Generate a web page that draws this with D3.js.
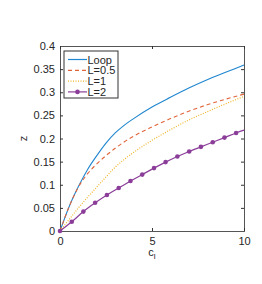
<!DOCTYPE html>
<html>
<head>
<meta charset="utf-8">
<script src="https://cdn.jsdelivr.net/npm/d3@7"></script>
<style>
  body { margin: 0; background: #fff; }
  text { font-family: "Liberation Sans", Arial, sans-serif; }
</style>
</head>
<body>
<script>
// curve values
const cGrid = [0, 0.5, 1, 1.5, 2, 2.5, 3, 3.5, 4, 5, 6, 7, 8, 9, 10]
const zLoop = [0, 0.053, 0.096, 0.133, 0.163, 0.190, 0.212, 0.229, 0.243, 0.268, 0.289, 0.309, 0.327, 0.343, 0.359]
const zL05 = [0, 0.053, 0.095, 0.124, 0.145, 0.163, 0.179, 0.193, 0.205, 0.225, 0.243, 0.259, 0.273, 0.285, 0.296]
const zL1 = [0, 0.025, 0.050, 0.073, 0.095, 0.117, 0.138, 0.155, 0.170, 0.196, 0.219, 0.240, 0.258, 0.275, 0.291]

// L=2 with markers
const cL2 = [0, 0.64, 1.27, 1.91, 2.55, 3.19, 3.83, 4.47, 5.11, 5.74, 6.38, 7.02, 7.66, 8.3, 8.94, 9.57, 10]
const zL2 = [0, 0.020, 0.042, 0.061, 0.078, 0.093, 0.108, 0.122, 0.136, 0.149, 0.161, 0.172, 0.182, 0.192, 0.202, 0.212, 0.218]
const markerOn = cL2.map((c, i) => i < cL2.length - 1)

const seriesNames = ['Loop', 'L=0.5', 'L=1', 'L=2']
const colors = ['#1f86cf', '#e0653a', '#efb52a', '#8b3d99']
const yTicks = [0, 0.05, 0.1, 0.15, 0.2, 0.25, 0.3, 0.35, 0.4]
const xTicks = [0, 5, 10]

const width = 262, height = 284
const margin = {top: 46, right: 18, bottom: 53, left: 60}
const w = width - margin.left - margin.right
const h = height - margin.top - margin.bottom

const svg = d3.select('body').append('svg')
  .attr('width', width)
  .attr('height', height)
const chart = svg.append('g')
  .attr('transform', `translate(${margin.left},${margin.top})`)

const x = d3.scaleLinear().domain([0, 10]).range([0, w])
const y = d3.scaleLinear().domain([0, 0.4]).range([h, 0])

const fmtY = d => d === 0 ? '0' : d3.format('')(+d.toFixed(2))

const styleAxis = g => {
  g.select('.domain').attr('stroke', '#555').attr('stroke-width', 1)
  g.selectAll('.tick line').attr('stroke', '#333')
  g.selectAll('.tick text').attr('fill', '#262626').attr('font-size', 11)
}

chart.append('g').call(d3.axisLeft(y).tickValues(yTicks).tickSize(-3).tickPadding(5).tickFormat(fmtY))
  .call(styleAxis)
chart.append('g').attr('transform', `translate(${w},0)`)
  .call(d3.axisRight(y).tickValues(yTicks).tickSize(-3).tickFormat(''))
  .call(styleAxis)
chart.append('g').attr('transform', `translate(0,${h})`)
  .call(d3.axisBottom(x).tickValues(xTicks).tickSize(-3).tickPadding(6))
  .call(styleAxis)
chart.append('g')
  .call(d3.axisTop(x).tickValues(xTicks).tickSize(-3).tickFormat(''))
  .call(styleAxis)

const line = d3.line().x(d => x(d[0])).y(d => y(d[1])).curve(d3.curveMonotoneX)

const smooth = [zLoop, zL05, zL1]
const dashes = [null, '4,3', '1,1.5']
smooth.forEach((zs, i) => {
  chart.append('path')
    .datum(cGrid.map((c, j) => [c, zs[j]]))
    .attr('fill', 'none')
    .attr('stroke', colors[i])
    .attr('stroke-width', i === 2 ? 1.2 : 1.1)
    .attr('stroke-dasharray', dashes[i])
    .attr('d', line)
})

const l2 = cL2.map((c, j) => [c, zL2[j]])
chart.append('path')
  .datum(l2)
  .attr('fill', 'none')
  .attr('stroke', colors[3])
  .attr('stroke-width', 1.2)
  .attr('d', line)
chart.selectAll('.mk')
  .data(l2.filter((d, i) => markerOn[i]))
  .enter()
  .append('circle')
  .attr('class', 'mk')
  .attr('cx', d => x(d[0]))
  .attr('cy', d => y(d[1]))
  .attr('r', 2.3)
  .attr('fill', colors[3])

// axis labels
svg.append('text')
  .attr('transform', `translate(27,${margin.top + h / 2}) rotate(-90)`)
  .attr('text-anchor', 'middle')
  .attr('font-size', 11)
  .attr('fill', '#262626')
  .text('z')
const xl = svg.append('text')
  .attr('x', margin.left + w / 2)
  .attr('y', 256)
  .attr('text-anchor', 'middle')
  .attr('font-size', 11)
  .attr('fill', '#262626')
xl.append('tspan').text('c')
xl.append('tspan').attr('font-size', 8).attr('dy', 3).text('l')

// legend
const lg = svg.append('g').attr('transform', 'translate(64,51)')
lg.append('rect')
  .attr('width', 54)
  .attr('height', 47)
  .attr('fill', '#fff')
  .attr('stroke', '#333')
  .attr('stroke-width', 1)
seriesNames.forEach((name, i) => {
  const yy = 8.5 + i * 10.8
  lg.append('line')
    .attr('x1', 4).attr('x2', 23)
    .attr('y1', yy).attr('y2', yy)
    .attr('stroke', colors[i])
    .attr('stroke-width', 1.2)
    .attr('stroke-dasharray', i < 3 ? dashes[i] : null)
  if (i === 3) {
    lg.append('circle').attr('cx', 13.5).attr('cy', yy).attr('r', 2.3).attr('fill', colors[i])
  }
  lg.append('text')
    .attr('x', 23.5)
    .attr('y', yy + 4)
    .attr('font-size', 11)
    .attr('fill', '#262626')
    .text(name)
})
</script>
</body>
</html>
